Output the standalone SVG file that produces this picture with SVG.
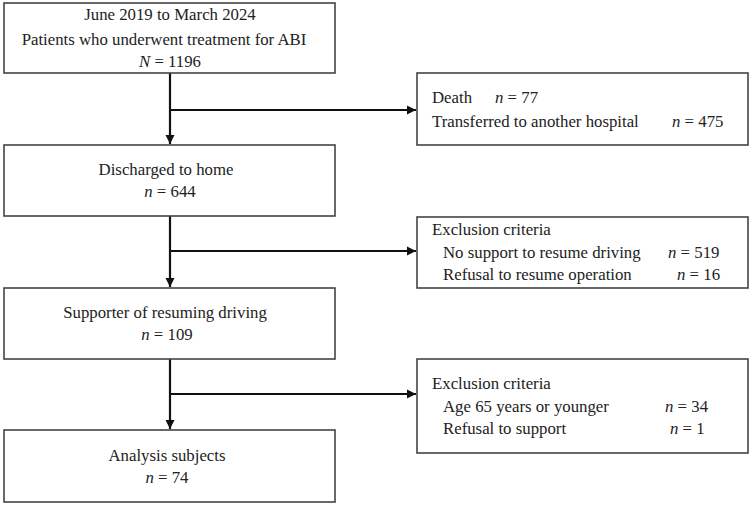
<svg xmlns="http://www.w3.org/2000/svg" width="750" height="506" viewBox="0 0 750 506">
<defs>
<marker id="ah" viewBox="0 0 10 10" refX="10" refY="5" markerWidth="4.2" markerHeight="4.2" orient="auto" markerUnits="strokeWidth">
<path d="M0,0 L10,5 L0,10 z" fill="#111"/>
</marker>
<style>
.box{fill:#fff;stroke:#444;stroke-width:1.6}
text{font-family:"Liberation Serif","Times New Roman",serif;font-size:16.8px;fill:#222}
.c{text-anchor:middle}
.i{font-style:italic}
.ln{fill:none;stroke:#111;stroke-width:2.2}
</style>
</defs>
<rect width="750" height="506" fill="#fff"/>
<g id="connectors">
<line class="ln" x1="170" y1="73" x2="170" y2="144" marker-end="url(#ah)"/>
<line class="ln" x1="170" y1="110" x2="416" y2="110" marker-end="url(#ah)"/>
<line class="ln" x1="170" y1="216" x2="170" y2="287" marker-end="url(#ah)"/>
<line class="ln" x1="170" y1="251" x2="416" y2="251" marker-end="url(#ah)"/>
<line class="ln" x1="170" y1="359" x2="170" y2="429" marker-end="url(#ah)"/>
<line class="ln" x1="170" y1="394" x2="416" y2="394" marker-end="url(#ah)"/>
</g>
<g id="n1">
<rect class="box" x="4" y="3" width="331" height="70"/>
<text class="c" x="170" y="20">June 2019 to March 2024</text>
<text class="c" x="164" y="45">Patients who underwent treatment for ABI</text>
<text class="c" x="170" y="67"><tspan class="i">N</tspan> = 1196</text>
</g>
<g id="n2">
<rect class="box" x="4" y="145" width="331" height="71"/>
<text class="c" x="166" y="175">Discharged to home</text>
<text class="c" x="170" y="197"><tspan class="i">n</tspan> = 644</text>
</g>
<g id="n3">
<rect class="box" x="4" y="288" width="331" height="71"/>
<text class="c" x="165" y="318">Supporter of resuming driving</text>
<text class="c" x="167" y="340"><tspan class="i">n</tspan> = 109</text>
</g>
<g id="n4">
<rect class="box" x="4" y="430" width="331" height="72"/>
<text class="c" x="167" y="461">Analysis subjects</text>
<text class="c" x="167" y="483"><tspan class="i">n</tspan> = 74</text>
</g>
<g id="e1">
<rect class="box" x="417" y="73" width="331" height="72"/>
<text x="432" y="103">Death</text>
<text x="495" y="103"><tspan class="i">n</tspan> = 77</text>
<text x="432" y="127">Transferred to another hospital</text>
<text x="672" y="127"><tspan class="i">n</tspan> = 475</text>
</g>
<g id="e2">
<rect class="box" x="417" y="217" width="331" height="71"/>
<text x="432" y="235">Exclusion criteria</text>
<text x="443" y="258">No support to resume driving</text>
<text x="668" y="258"><tspan class="i">n</tspan> = 519</text>
<text x="443" y="280">Refusal to resume operation</text>
<text x="677" y="280"><tspan class="i">n</tspan> = 16</text>
</g>
<g id="e3">
<rect class="box" x="417" y="359" width="331" height="94"/>
<text x="432" y="389">Exclusion criteria</text>
<text x="443" y="412">Age 65 years or younger</text>
<text x="665" y="412"><tspan class="i">n</tspan> = 34</text>
<text x="443" y="434">Refusal to support</text>
<text x="670" y="434"><tspan class="i">n</tspan> = 1</text>
</g>
</svg>
